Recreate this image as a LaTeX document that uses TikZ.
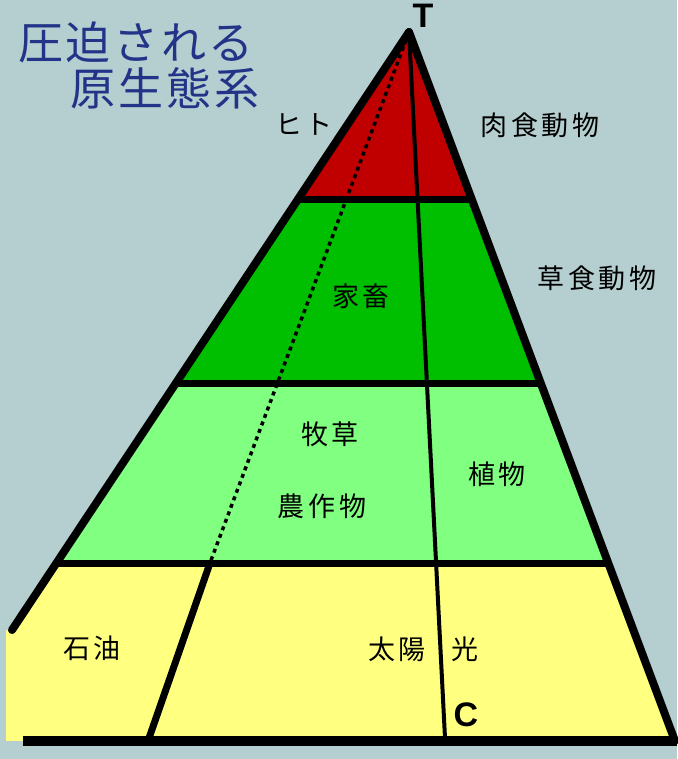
\documentclass[tikz,border=0pt]{standalone}
\usepackage{fontspec}
\setsansfont{Liberation Sans}
\newfontfamily\jp[LetterSpace=14]{Noto Sans CJK JP}
\newfontfamily\jpt[LetterSpace=6]{Noto Sans CJK JP}
\definecolor{bgc}{HTML}{B5CECF}
\definecolor{redc}{HTML}{C00000}
\definecolor{dgreen}{HTML}{00BE00}
\definecolor{lgreen}{HTML}{80FF80}
\definecolor{yel}{HTML}{FFFF80}
\definecolor{titleblue}{HTML}{223388}
\tikzset{
  edge/.style={line width=8pt, line cap=round},
  band/.style={line width=7pt},
  lbl/.style={inner sep=0pt, font=\jp\fontsize{27}{27}\selectfont},
  ttl/.style={inner sep=0pt, text=titleblue, font=\jpt\fontsize{45}{45}\selectfont},
  letter/.style={inner sep=0pt, font=\sffamily\bfseries\fontsize{34}{34}\selectfont}
}
\begin{document}
\begin{tikzpicture}[x=1pt,y=-1pt]
\fill[bgc] (0,0) rectangle (677,759);
\useasboundingbox (0,0) rectangle (677,759);
\coordinate (T) at (409,32);
\coordinate (BR) at (675,741);
\coordinate (LE) at (12,630);
\coordinate (L1) at (298,200);
\coordinate (R1) at (472,200);
\coordinate (L2) at (177,383);
\coordinate (R2) at (541,383);
\coordinate (L3) at (58,563);
\coordinate (R3) at (609,563);
\coordinate (BL) at (23,741);
\coordinate (BE) at (677,741);
\coordinate (C0) at (445,738);
\coordinate (D0) at (210,563);
\coordinate (D1) at (148,741);
\begin{scope}
\clip (409,32) -- (676,741) -- (6,741) -- (6,630) -- (12,630) -- cycle;
\fill[redc] (0,0) rectangle (677,200);
\fill[dgreen] (0,200) rectangle (677,383);
\fill[lgreen] (0,383) rectangle (677,563);
\fill[yel] (0,563) rectangle (677,741);
\end{scope}
\draw[line width=4pt] (T) -- (C0);
\draw[line width=3.5pt, dash pattern=on 4pt off 4pt] (T) -- (D0);
\draw[band] (D0) -- (D1);
\draw[band] (L1) -- (R1);
\draw[band] (L2) -- (R2);
\draw[band] (L3) -- (R3);
\draw[edge] (T) -- (LE);
\draw[edge] (T) -- (BR);
\draw[line width=10pt] (BL) -- (BE);
\node[ttl] (t1) at (136,42) {圧迫される};
\node[ttl] (t2) at (165,88) {原生態系};
\node[letter] (lt) at (423,16) {T};
\node[letter] (lc) at (466,715) {C};
\node[lbl] (hito) at (304,124) {ヒト};
\node[lbl] (niku) at (540,125) {肉食動物};
\node[lbl] (sou) at (597,278) {草食動物};
\node[lbl] (kachiku) at (361,296) {家畜};
\node[lbl] (bokusou) at (330,434) {牧草};
\node[lbl] (nousaku) at (322,506) {農作物};
\node[lbl] (shoku) at (497,474) {植物};
\node[lbl] (sekiyu) at (92,648) {石油};
\node[lbl] (taiyou) at (397,649) {太陽};
\node[lbl] (hikari) at (465,649) {光};
\end{tikzpicture}
\end{document}
